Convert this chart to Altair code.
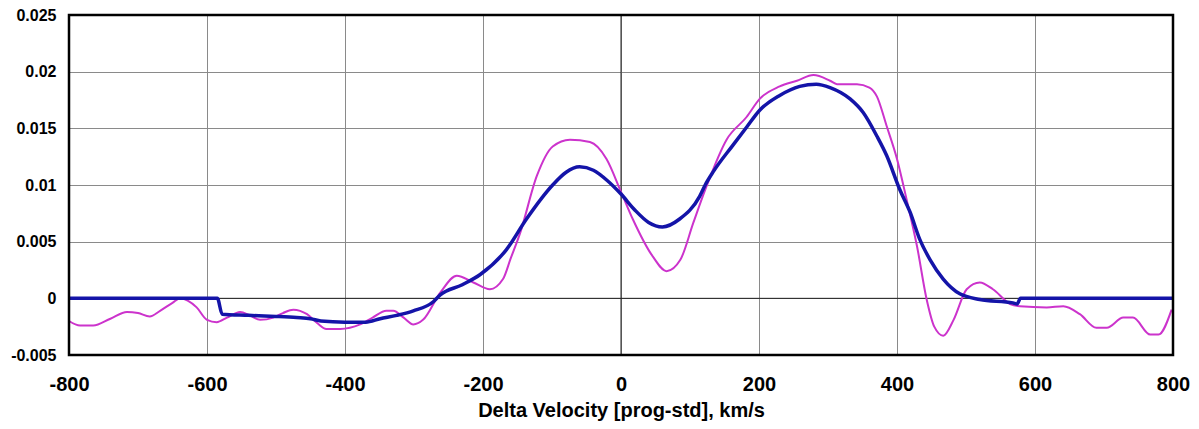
import altair as alt
import pandas as pd

# Blue series (smoothed profile)
blue_v = [-800, -585, -578, -540, -500, -470, -450, -435, -400, -370, -349, -325, -301,
          -272, -262, -230, -204, -166, -137, -99, -80, -60, -40, -20, 0, 20, 40, 60, 85,
          114, 122, 134, 162, 182, 201, 230, 259, 283, 303, 332, 351, 371, 385, 404, 419,
          433, 448, 467, 491, 520, 568, 574, 579, 800]
blue_y = [0, 0, -0.0014, -0.0015, -0.0016, -0.0017, -0.0018, -0.002, -0.0021, -0.0021,
          -0.0018, -0.0015, -0.0011, -0.0003, 0.0003, 0.0012, 0.0021, 0.0043, 0.007, 0.0100,
          0.0111, 0.0116, 0.0113, 0.0104, 0.0092, 0.0078, 0.0067, 0.0063, 0.0070,
          0.0090, 0.0100, 0.0112, 0.0135, 0.0151, 0.0166, 0.0179, 0.0187, 0.0189, 0.0186,
          0.0176, 0.0164, 0.0143, 0.0126, 0.0096, 0.0076, 0.0052, 0.0034, 0.0017, 0.0004,
          -0.0001, -0.0004, -0.0005, 0, 0]

# Magenta series (raw profile)
mag_v = [-800, -784, -765, -740, -716, -700, -683, -668, -650, -639, -628, -615, -600,
         -586, -571, -552, -538, -523, -504, -490, -475, -455, -440, -427, -407, -378,
         -360, -340, -330, -315, -301, -287, -262, -238, -214, -190, -171, -160, -146,
         -122, -99, -74, -45, -21, 0, 17, 46, 66, 86, 105, 124, 153, 182, 201, 230, 255,
         279, 303, 313, 342, 360, 371, 385, 400, 414, 429, 443, 454, 467, 482, 501, 520,
         539, 564, 578, 617, 641, 665, 689, 704, 728, 742, 767, 779, 798]
mag_y = [-0.0020, -0.0024, -0.0024, -0.0018, -0.0012, -0.0013, -0.0016, -0.0011, -0.0004,
         0.0000, -0.0002, -0.0008, -0.0019, -0.0021, -0.0017, -0.0012, -0.0015, -0.0019,
         -0.0017, -0.0013, -0.0010, -0.0014, -0.0022, -0.0027, -0.0027, -0.0023, -0.0017,
         -0.0011, -0.0011, -0.0017, -0.0023, -0.0019, 0.0005, 0.0020, 0.0014, 0.0008,
         0.0017, 0.0035, 0.0058, 0.0108, 0.0134, 0.0140, 0.0138, 0.0123, 0.0094, 0.0070,
         0.0037, 0.0024, 0.0034, 0.0067, 0.0099, 0.0140, 0.0160, 0.0176, 0.0187, 0.0192,
         0.0197, 0.0192, 0.0189, 0.0189, 0.0186, 0.0178, 0.0152, 0.0123, 0.0087, 0.0046,
         -0.0001, -0.0025, -0.0033, -0.0019, 0.0008, 0.0014, 0.0008, -0.0005, -0.0007,
         -0.0008, -0.0007, -0.0014, -0.0026, -0.0026, -0.0017, -0.0017, -0.0032, -0.0032,
         -0.0010]

x_ticks = [-800, -600, -400, -200, 0, 200, 400, 600, 800]
y_ticks = [-0.005, 0, 0.005, 0.01, 0.015, 0.02, 0.025]

blue_df = pd.DataFrame({"v": blue_v, "y": blue_y})
mag_df = pd.DataFrame({"v": mag_v, "y": mag_y})

xscale = alt.Scale(domain=[-800, 800], nice=False, zero=False)
yscale = alt.Scale(domain=[-0.005, 0.025], nice=False, zero=False)

x_axis = alt.Axis(values=x_ticks, labelExpr="'' + datum.value", title="Delta Velocity [prog-std], km/s",
                  grid=True, gridColor="#8a8a8a", gridOpacity=1, gridWidth=1, labelFlush=False,
                  ticks=False, domain=False, labelFont="Liberation Sans", labelFontWeight="bold",
                  labelFontSize=20, labelColor="#000000", labelPadding=19,
                  titleFont="Liberation Sans", titleFontWeight="bold", titleFontSize=20,
                  titleColor="#000000", titlePadding=6)
y_axis = alt.Axis(values=y_ticks, labelExpr="'' + datum.value", title=None,
                  grid=True, gridColor="#8a8a8a", gridOpacity=1, gridWidth=1, labelFlush=False,
                  ticks=False, domain=False, labelFont="Liberation Sans", labelFontWeight="bold",
                  labelFontSize=16, labelColor="#000000", labelPadding=13)

base_grid = alt.Chart(pd.DataFrame({"v": [0], "y": [0]})).mark_point(opacity=0).encode(
    x=alt.X("v:Q", scale=xscale, axis=x_axis),
    y=alt.Y("y:Q", scale=yscale, axis=y_axis),
)

zero_h = alt.Chart(pd.DataFrame({"y": [0]})).mark_rule(color="#222222", strokeWidth=1).encode(
    y=alt.Y("y:Q", scale=yscale))
zero_v = alt.Chart(pd.DataFrame({"v": [0]})).mark_rule(color="#222222", strokeWidth=1).encode(
    x=alt.X("v:Q", scale=xscale))

mag_line = alt.Chart(mag_df).mark_line(color="#CC33CC", strokeWidth=2, interpolate="monotone").encode(
    x=alt.X("v:Q", scale=xscale), y=alt.Y("y:Q", scale=yscale))
blue_line = alt.Chart(blue_df).mark_line(color="#1414A8", strokeWidth=3.5, interpolate="monotone").encode(
    x=alt.X("v:Q", scale=xscale), y=alt.Y("y:Q", scale=yscale))

frame = alt.Chart(pd.DataFrame({"a": [0]})).mark_rect(fill=None, stroke="#000000", strokeWidth=2.5).encode(
    x=alt.value(0), x2=alt.value(1104), y=alt.value(0), y2=alt.value(340))

chart = alt.layer(base_grid, zero_h, zero_v, mag_line, blue_line, frame).properties(
    width=1104, height=340,
    autosize=alt.AutoSizeParams(type="none"),
    padding={"left": 61, "top": 7, "right": 18, "bottom": 66},
    background="#ffffff",
).configure_view(stroke=None)

chart.save("out.html", embed_options={"renderer": "svg", "actions": False})
